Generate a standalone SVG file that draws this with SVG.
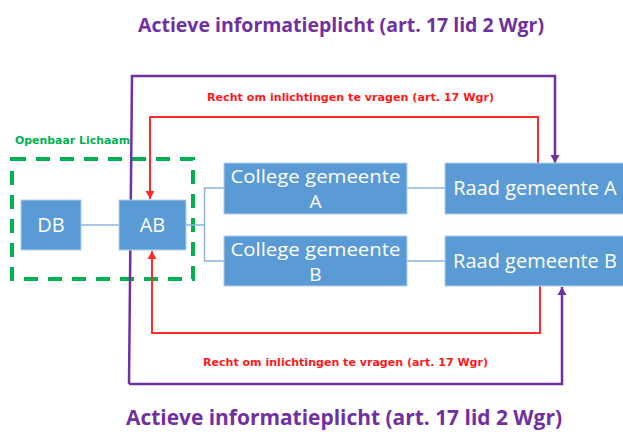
<svg xmlns="http://www.w3.org/2000/svg" width="623" height="432" viewBox="0 0 623 432">
  <style>
    .box { fill: #5B9BD5; stroke: #B4CFEC; stroke-width: 1; }
    .bt { font-family: "Open Sans", "Liberation Sans", sans-serif; font-size: 20px; fill: #FFFFFF; text-anchor: middle; }
    .bt2 { font-family: "Open Sans", "Liberation Sans", sans-serif; font-size: 19px; fill: #FFFFFF; text-anchor: middle; }
    .title { font-family: "Open Sans", "Liberation Sans", sans-serif; font-weight: bold; fill: #7030A0; }
    .red { font-family: "DejaVu Sans", "Liberation Sans", sans-serif; font-weight: bold; font-size: 10.5px; fill: #FF1A1A; }
    .link { fill: none; stroke: #8FB3DE; stroke-width: 1.5; }
    .rline { fill: none; stroke: #FF2A2A; stroke-width: 2; }
    .pline { fill: none; stroke: #7030A0; stroke-width: 2.5; }
  </style>
  <defs>
    <marker id="arR" markerUnits="userSpaceOnUse" markerWidth="10" markerHeight="10" refX="8" refY="5" orient="auto">
      <path d="M0,0.5 L8,5 L0,9.5 Z" fill="#FF2A2A"/>
    </marker>
    <marker id="arP" markerUnits="userSpaceOnUse" markerWidth="10" markerHeight="10" refX="8" refY="5" orient="auto">
      <path d="M0,0.5 L8,5 L0,9.5 Z" fill="#7030A0"/>
    </marker>
  </defs>
  <rect width="623" height="432" fill="#FFFFFF"/>

  <g id="titles">
    <text class="title" x="138" y="32" font-size="20" textLength="406" lengthAdjust="spacingAndGlyphs">Actieve informatieplicht (art. 17 lid 2 Wgr)</text>
    <text class="title" x="126" y="425" font-size="21" textLength="436" lengthAdjust="spacingAndGlyphs">Actieve informatieplicht (art. 17 lid 2 Wgr)</text>
  </g>

  <g id="openbaar-lichaam">
    <rect x="12" y="159" width="181" height="120" fill="none" stroke="#00B050" stroke-width="4" stroke-dasharray="14 10"/>
    <text x="15" y="144" font-family="DejaVu Sans, Liberation Sans, sans-serif" font-weight="bold" font-size="10" fill="#00B050" textLength="115" lengthAdjust="spacingAndGlyphs">Openbaar Lichaam</text>
  </g>

  <g id="connectors">
    <path class="link" d="M81,225 H119"/>
    <path class="link" d="M186,225 H204.5"/>
    <path class="link" d="M224,188 H204.5 V261 H224"/>
    <path class="link" d="M407,188 H445"/>
    <path class="link" d="M407,261 H445"/>
    <path class="rline" d="M538,163 V117 H150 V199" marker-end="url(#arR)"/>
    <path class="rline" d="M540,286 V333 H152 V251" marker-end="url(#arR)"/>
    <path class="pline" d="M129,384 L132,76 H555 V163" marker-end="url(#arP)"/>
    <path class="pline" d="M129,384 H562 V287" marker-end="url(#arP)"/>
    <text class="red" x="207" y="101" textLength="287" lengthAdjust="spacingAndGlyphs">Recht om inlichtingen te vragen (art. 17 Wgr)</text>
    <text class="red" x="203" y="366" textLength="285" lengthAdjust="spacingAndGlyphs">Recht om inlichtingen te vragen (art. 17 Wgr)</text>
  </g>

  <g id="db">
    <rect class="box" x="21" y="200" width="60" height="50"/>
    <text class="bt" x="51" y="232">DB</text>
  </g>
  <g id="ab">
    <rect class="box" x="119" y="200" width="67" height="50"/>
    <text class="bt" x="152.5" y="232">AB</text>
  </g>
  <g id="college-a">
    <rect class="box" x="224" y="163" width="183" height="51"/>
    <text class="bt2" x="315.5" y="183" textLength="170" lengthAdjust="spacingAndGlyphs">College gemeente</text>
    <text class="bt2" x="315.5" y="208">A</text>
  </g>
  <g id="college-b">
    <rect class="box" x="224" y="236" width="183" height="50"/>
    <text class="bt2" x="315.5" y="256" textLength="170" lengthAdjust="spacingAndGlyphs">College gemeente</text>
    <text class="bt2" x="315.5" y="281">B</text>
  </g>
  <g id="raad-a">
    <rect class="box" x="445" y="163" width="180" height="51"/>
    <text class="bt" x="535" y="195">Raad gemeente A</text>
  </g>
  <g id="raad-b">
    <rect class="box" x="445" y="236" width="180" height="50"/>
    <text class="bt" x="535" y="268">Raad gemeente B</text>
  </g>
</svg>
